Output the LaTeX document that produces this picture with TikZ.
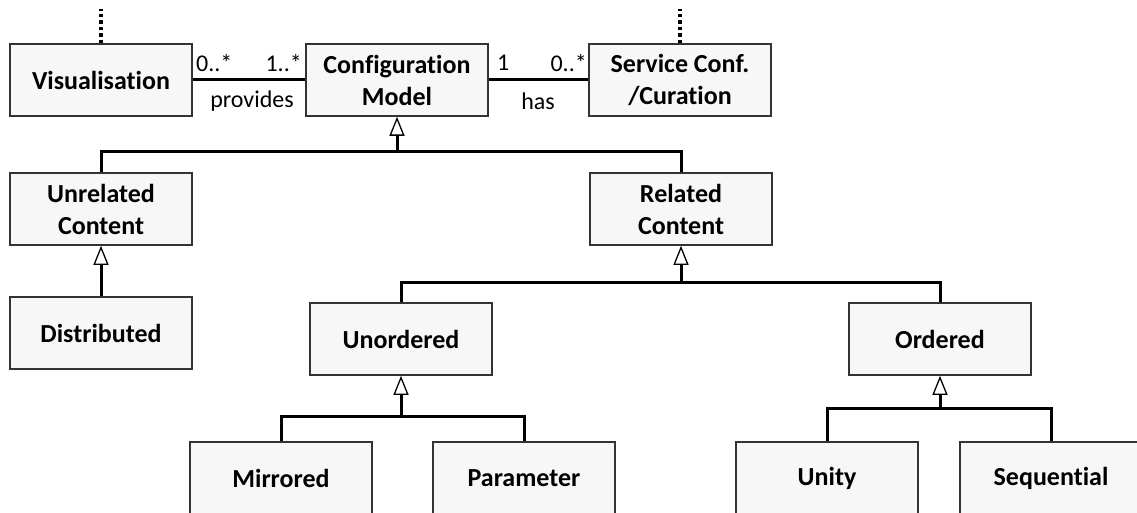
\documentclass[tikz,border=0pt]{standalone}
\usepackage{fontspec}
\setmainfont[Ligatures=NoCommon]{Carlito}
\usetikzlibrary{arrows.meta}

\definecolor{boxfill}{HTML}{F7F7F7}
\definecolor{boxline}{HTML}{333333}

\tikzset{
  cls/.style={draw=boxline, line width=1.6pt, fill=boxfill, rectangle,
    minimum width=182pt, minimum height=72pt, inner sep=0pt,
    align=center, font=\fontsize{26}{32}\selectfont\bfseries},
  link/.style={line width=3pt, draw=black},
  gen/.style={link, -{Triangle[open, width=15pt, length=19pt, line width=1.3pt, fill=white]}},
  mult/.style={font=\fontsize{24}{28}\selectfont, inner sep=0pt},
  trail/.style={line width=3.2pt, dash pattern=on 3.5pt off 3pt},
}

\begin{document}
\begin{tikzpicture}[x=1pt, y=-1pt]
  \useasboundingbox (0,0) rectangle (1137,513);
  \clip (0,0) rectangle (1137,513);

  % top row
  \node[cls] (vis) at (101,80) {Visualisation};
  \node[cls] (conf) at (397,80) {Configuration\\Model};
  \node[cls] (serv) at (680,80) {Service Conf.\\/Curation};

  % continuation above
  \coordinate (visup) at (101,9);
  \coordinate (servup) at (680,9);
  \draw[trail] (vis.north) -- (visup);
  \draw[trail] (serv.north) -- (servup);

  % associations
  \draw[link] (vis.east) -- (conf.west);
  \draw[link] (conf.east) -- (serv.west);
  \node[mult, anchor=west] at (196,63) {0..*};
  \node[mult, anchor=east] at (302,63) {1..*};
  \node[mult] at (252,101) {provides};
  \node[mult, anchor=west] at (497,63) {1};
  \node[mult, anchor=east] at (587,63) {0..*};
  \node[mult] at (538,101) {has};

  % second level
  \node[cls] (unrel) at (101,209) {Unrelated\\Content};
  \node[cls] (rel) at (681,209) {Related\\Content};
  \node[cls] (dist) at (101,333) {Distributed};

  \coordinate (j1) at (conf.south |- 0,152);
  \draw[link] (unrel.north) |- (j1) -| (rel.north);
  \draw[gen] (j1) -- (conf.south);
  \draw[gen] (dist.north) -- (unrel.south);

  % third level
  \node[cls] (unord) at (401,339) {Unordered};
  \node[cls] (ord) at (940,339) {Ordered};
  \coordinate (j2) at (rel.south |- 0,282);
  \draw[link] (unord.north) |- (j2) -| (ord.north);
  \draw[gen] (j2) -- (rel.south);

  % leaves
  \node[cls] (mir) at (281,478) {Mirrored};
  \node[cls] (par) at (524,478) {Parameter};
  \node[cls] (uni) at (827,478) {Unity};
  \node[cls] (seq) at (1051,478) {Sequential};

  \coordinate (j3) at (unord.south |- 0,416);
  \draw[link] (mir.north) |- (j3) -| (par.north);
  \draw[gen] (j3) -- (unord.south);

  \coordinate (j4) at (ord.south |- 0,408);
  \draw[link] (uni.north) |- (j4) -| (seq.north);
  \draw[gen] (j4) -- (ord.south);
\end{tikzpicture}
\end{document}
